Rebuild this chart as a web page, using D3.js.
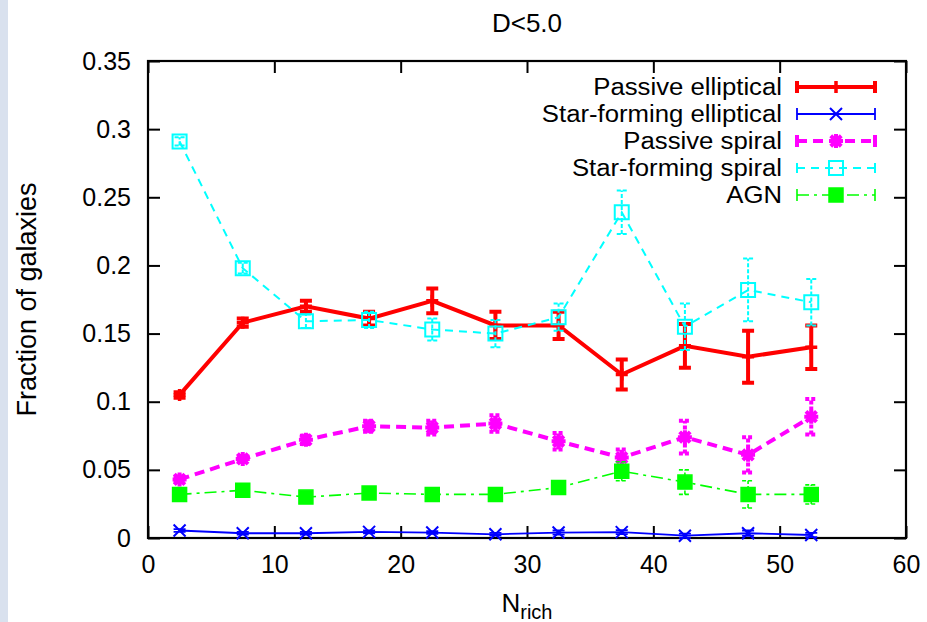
<!DOCTYPE html>
<html>
<head>
<meta charset="utf-8">
<script src="https://cdn.jsdelivr.net/npm/d3@7"></script>
<style>
  html, body { margin: 0; padding: 0; background: #ffffff; }
  svg { display: block; }
  text { font-family: "Liberation Sans", Arial, Helvetica, sans-serif; fill: #000; }
</style>
</head>
<body>
<svg id="chart" width="927" height="622"></svg>
<script>
// ---------------- data ----------------
const title = "D<5.0";
const nrich = [2.5, 7.5, 12.5, 17.5, 22.5, 27.5, 32.5, 37.5, 42.5, 47.5, 52.5];

const passiveEllipticalVal = [0.105, 0.158, 0.170, 0.161, 0.174, 0.156, 0.156, 0.120, 0.141, 0.133, 0.140];
const passiveEllipticalErr = [0.002, 0.003, 0.004, 0.005, 0.009, 0.010, 0.010, 0.011, 0.016, 0.019, 0.016];

const sfEllipticalVal = [0.0055, 0.0035, 0.0035, 0.0045, 0.0040, 0.0027, 0.0040, 0.0043, 0.0017, 0.0035, 0.0022];
const sfEllipticalErr = [0.0010, 0.0010, 0.0010, 0.0010, 0.0010, 0.0010, 0.0015, 0.0015, 0.0015, 0.0020, 0.0015];

const passiveSpiralVal = [0.043, 0.058, 0.072, 0.082, 0.081, 0.084, 0.071, 0.059, 0.074, 0.061, 0.089];
const passiveSpiralErr = [0.002, 0.002, 0.003, 0.004, 0.005, 0.006, 0.006, 0.006, 0.012, 0.013, 0.013];

const sfSpiralVal = [0.291, 0.198, 0.159, 0.160, 0.153, 0.150, 0.162, 0.239, 0.155, 0.182, 0.173];
const sfSpiralErr = [0.003, 0.004, 0.005, 0.006, 0.008, 0.010, 0.010, 0.016, 0.017, 0.023, 0.017];

const agnVal = [0.032, 0.035, 0.030, 0.033, 0.032, 0.032, 0.037, 0.049, 0.041, 0.032, 0.032];
const agnErr = [0.002, 0.002, 0.002, 0.003, 0.003, 0.004, 0.004, 0.007, 0.009, 0.010, 0.007];

const xTicks = [0, 10, 20, 30, 40, 50, 60];
const yTicks = [0, 0.05, 0.1, 0.15, 0.2, 0.25, 0.3, 0.35];
const xLabel = "N";
const xLabelSub = "rich";
const yLabel = "Fraction of galaxies";

// ---------------- styles ----------------
const seriesDefs = [
  { name: "Passive elliptical", vals: passiveEllipticalVal, errs: passiveEllipticalErr,
    color: "#ff0000", width: 4, dash: null, marker: "plus", msize: 6, mwidth: 3.5, cap: 6, capW: 4 },
  { name: "Star-forming elliptical", vals: sfEllipticalVal, errs: sfEllipticalErr,
    color: "#0000ff", width: 1.8, dash: null, marker: "cross", msize: 6, mwidth: 2, cap: 6, capW: 1.8 },
  { name: "Passive spiral", vals: passiveSpiralVal, errs: passiveSpiralErr,
    color: "#ff00ff", width: 4, dash: "10,6", marker: "star", msize: 7, mwidth: 4, cap: 6, capW: 4 },
  { name: "Star-forming spiral", vals: sfSpiralVal, errs: sfSpiralErr,
    color: "#00ffff", width: 2, dash: "8,6", marker: "box", msize: 7, mwidth: 2, cap: 5, capW: 2 },
  { name: "AGN", vals: agnVal, errs: agnErr,
    color: "#00ff00", width: 1.6, dash: "12,5,3,5", marker: "fbox", msize: 7, mwidth: 1.5, cap: 6, capW: 1.6 }
];

(function draw() {
// ---------------- layout ----------------
const svg = d3.select("#chart");
const W = 927, H = 622;
const pL = 148, pR = 906, pT = 61, pB = 538;

svg.append("rect").attr("x", 0).attr("y", 0).attr("width", W).attr("height", H).attr("fill", "#ffffff");
// light side strip seen on the left edge
svg.append("rect").attr("x", 0).attr("y", 0).attr("width", 8).attr("height", H).attr("fill", "#d9e1ee");

const x = d3.scaleLinear().domain([0, 60]).range([pL, pR]);
const y = d3.scaleLinear().domain([0, 0.35]).range([pB, pT]);

const fmtY = d => (d === 0 ? "0" : String(+d.toFixed(2)));

// axes with inward ticks
const axB = svg.append("g").attr("transform", `translate(0,${pB})`)
  .call(d3.axisBottom(x).tickValues(xTicks).tickSize(-12).tickPadding(17).tickFormat(d3.format("d")));
const axL = svg.append("g").attr("transform", `translate(${pL},0)`)
  .call(d3.axisLeft(y).tickValues(yTicks).tickSize(-12).tickPadding(17).tickFormat(fmtY));
const axT = svg.append("g").attr("transform", `translate(0,${pT})`)
  .call(d3.axisTop(x).tickValues(xTicks).tickSize(-12).tickFormat(""));
const axR = svg.append("g").attr("transform", `translate(${pR},0)`)
  .call(d3.axisRight(y).tickValues(yTicks).tickSize(-12).tickFormat(""));

[axB, axL, axT, axR].forEach(g => {
  g.select(".domain").remove();
  g.selectAll(".tick line").attr("stroke", "#000").attr("stroke-width", 2);
  g.selectAll("text").style("font-size", "25px").style("font-family", "'Liberation Sans', Arial, sans-serif").attr("fill", "#000");
});

// frame
svg.append("rect").attr("x", pL).attr("y", pT).attr("width", pR - pL).attr("height", pB - pT)
  .attr("fill", "none").attr("stroke", "#000").attr("stroke-width", 2.2);

// title and axis labels
svg.append("text").attr("x", (pL + pR) / 2).attr("y", 32).attr("text-anchor", "middle")
  .style("font-size", "26px").text(title);

svg.append("text").attr("transform", `translate(36,${(pT + pB) / 2}) rotate(-90)`)
  .attr("text-anchor", "middle").style("font-size", "27px").text(yLabel);

const xl = svg.append("text").attr("x", (pL + pR) / 2).attr("y", 612).attr("text-anchor", "middle")
  .style("font-size", "26px");
xl.append("tspan").text(xLabel);
xl.append("tspan").attr("dy", 7).style("font-size", "20px").text(xLabelSub);

// ---------------- marker drawing ----------------
function markerPath(type, s) {
  switch (type) {
    case "plus": return `M${-s},0H${s}M0,${-s}V${s}`;
    case "cross": return `M${-s},${-s}L${s},${s}M${-s},${s}L${s},${-s}`;
    case "star": return `M${-s},0H${s}M0,${-s}V${s}M${-s*0.75},${-s*0.75}L${s*0.75},${s*0.75}M${-s*0.75},${s*0.75}L${s*0.75},${-s*0.75}`;
    case "box":
    case "fbox": return `M${-s},${-s}H${s}V${s}H${-s}Z`;
  }
}
function drawMarker(g, def, cx, cy) {
  const filled = def.marker === "fbox";
  g.append("path").attr("transform", `translate(${cx},${cy})`)
    .attr("d", markerPath(def.marker, def.msize))
    .attr("fill", filled ? def.color : "none")
    .attr("stroke", def.color).attr("stroke-width", def.mwidth);
}

// ---------------- series ----------------
const plotG = svg.append("g");
seriesDefs.forEach(def => {
  const pts = nrich.map((n, i) => ({ n, v: def.vals[i], e: def.errs[i] }));
  const g = plotG.append("g");
  pts.forEach(p => {
    const d = `M${x(p.n)},${y(p.v - p.e)}V${y(p.v + p.e)}` +
              `M${x(p.n) - def.cap},${y(p.v - p.e)}H${x(p.n) + def.cap}` +
              `M${x(p.n) - def.cap},${y(p.v + p.e)}H${x(p.n) + def.cap}`;
    g.append("path").attr("d", d).attr("stroke", def.color).attr("stroke-width", def.capW)
      .attr("fill", "none").attr("stroke-dasharray", def.dash ? "4,2" : null);
  });
  g.append("path").datum(pts)
    .attr("d", d3.line().x(p => x(p.n)).y(p => y(p.v)))
    .attr("fill", "none").attr("stroke", def.color).attr("stroke-width", def.width)
    .attr("stroke-dasharray", def.dash);
  pts.forEach(p => drawMarker(g, def, x(p.n), y(p.v)));
});

// ---------------- legend ----------------
const legTextX = 782, legX0 = 797, legX1 = 875, legY0 = 87, legDy = 27;
seriesDefs.forEach((def, i) => {
  const ly = legY0 + i * legDy;
  const g = svg.append("g");
  g.append("text").attr("transform", `translate(${legTextX},${ly}) scale(1.1,1)`)
    .attr("dy", "0.36em").attr("text-anchor", "end")
    .style("font-size", "23.4px").text(def.name);
  g.append("path").attr("d", `M${legX0},${ly}H${legX1}`)
    .attr("stroke", def.color).attr("stroke-width", def.width).attr("stroke-dasharray", def.dash).attr("fill", "none");
  g.append("path").attr("d", `M${legX0},${ly - def.cap}V${ly + def.cap}M${legX1},${ly - def.cap}V${ly + def.cap}`)
    .attr("stroke", def.color).attr("stroke-width", def.capW).attr("fill", "none");
  drawMarker(g, def, (legX0 + legX1) / 2, ly);
});
})();
</script>
</body>
</html>
